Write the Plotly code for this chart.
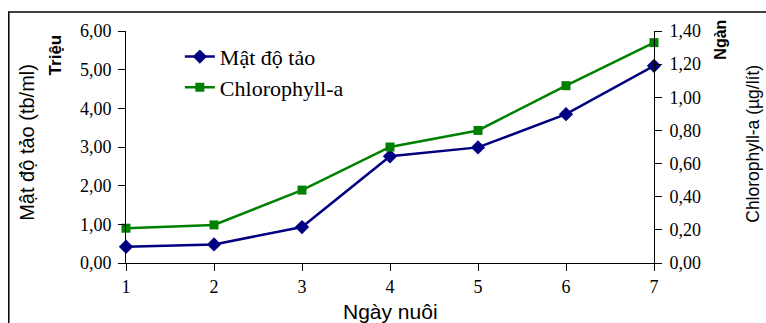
import plotly.graph_objects as go

# Culture days and measured values
days = [1, 2, 3, 4, 5, 6, 7]
mat_do_tao = [0.42, 0.48, 0.93, 2.76, 2.99, 3.85, 5.10]      # million cells/ml
chlorophyll_a = [0.21, 0.23, 0.44, 0.70, 0.80, 1.07, 1.33]   # thousand µg/l

left_ticks = [0, 1, 2, 3, 4, 5, 6]
right_ticks = [0, 0.2, 0.4, 0.6, 0.8, 1.0, 1.2, 1.4]

SERIF = "Liberation Serif, Times New Roman, serif"
SANS = "Liberation Sans, Arial, sans-serif"
BLUE = "#000080"
GREEN = "#008000"

fig = go.Figure()
fig.add_trace(go.Scatter(
    x=days, y=mat_do_tao, name="Mật độ tảo", mode="lines+markers",
    line=dict(color=BLUE, width=2.5),
    marker=dict(symbol="diamond", size=11, color=BLUE),
    cliponaxis=False, yaxis="y", legend="legend"))
fig.add_trace(go.Scatter(
    x=days, y=chlorophyll_a, name="Chlorophyll-a", mode="lines+markers",
    line=dict(color=GREEN, width=2.5),
    marker=dict(symbol="square", size=9, color=GREEN),
    cliponaxis=False, yaxis="y2", legend="legend2"))

axis_common = dict(showgrid=False, zeroline=False, showline=True,
                   linecolor="black", linewidth=1, tickcolor="black",
                   tickfont=dict(family=SERIF, size=18, color="black"))

fig.update_layout(
    width=766, height=323,
    margin=dict(l=126, r=112, t=31, b=60),
    paper_bgcolor="white", plot_bgcolor="white",
    separators=",.",
    xaxis=dict(range=[1, 7], tickvals=days, ticks="outside", ticklen=7,
               **axis_common),
    yaxis=dict(range=[0, 6], tickvals=left_ticks, tickformat=".2f",
               ticks="outside", ticklen=7, ticklabelstandoff=3,
               **axis_common),
    yaxis2=dict(range=[0, 1.4], tickvals=right_ticks, tickformat=".2f",
                overlaying="y", side="right", ticks="outside", ticklen=7,
                ticklabelstandoff=4, **axis_common),
    # inner half of the crossing ticks on the right axis
    yaxis3=dict(range=[0, 1.4], tickvals=right_ticks, overlaying="y",
                side="right", ticks="inside", ticklen=7, showticklabels=False,
                showgrid=False, zeroline=False, showline=False,
                tickcolor="black"),
    legend=dict(x=0.102, y=0.889, xanchor="left", yanchor="middle",
                bgcolor="rgba(0,0,0,0)",
                font=dict(family=SERIF, size=22, color="black")),
    legend2=dict(x=0.102, y=0.757, xanchor="left", yanchor="middle",
                 bgcolor="rgba(0,0,0,0)",
                 font=dict(family=SERIF, size=22, color="black")),
    showlegend=True,
)

# axis titles
fig.add_annotation(text="Mật độ tảo (tb/ml)", xref="paper", yref="paper",
                   x=-0.189, y=0.519, textangle=-90, showarrow=False,
                   xanchor="center", yanchor="middle",
                   font=dict(family=SANS, size=20, color="black"))
fig.add_annotation(text="<b>Triệu</b>", xref="paper", yref="paper",
                   x=-0.134, y=0.896, textangle=-90, showarrow=False,
                   xanchor="center", yanchor="middle",
                   font=dict(family=SANS, size=17, color="black"))
fig.add_annotation(text="<b>Ngàn</b>", xref="paper", yref="paper",
                   x=1.127, y=0.963, textangle=-90, showarrow=False,
                   xanchor="center", yanchor="middle",
                   font=dict(family=SANS, size=16, color="black"))
fig.add_annotation(text="Chlorophyll-a (µg/lít)", xref="paper", yref="paper",
                   x=1.1875, y=0.514, textangle=-90, showarrow=False,
                   xanchor="center", yanchor="middle",
                   font=dict(family=SANS, size=17.5, color="black"))
fig.add_annotation(text="Ngày nuôi", xref="paper", yref="paper",
                   x=0.5, y=-0.208, showarrow=False,
                   xanchor="center", yanchor="middle",
                   font=dict(family=SANS, size=21, color="black"))

# outer chart frame
fig.add_shape(type="rect", xref="paper", yref="paper",
              x0=-0.222, x1=1.4, y0=-0.5, y1=1.082,
              line=dict(color="black", width=1.5), layer="below")

fig.write_html("out.html")
